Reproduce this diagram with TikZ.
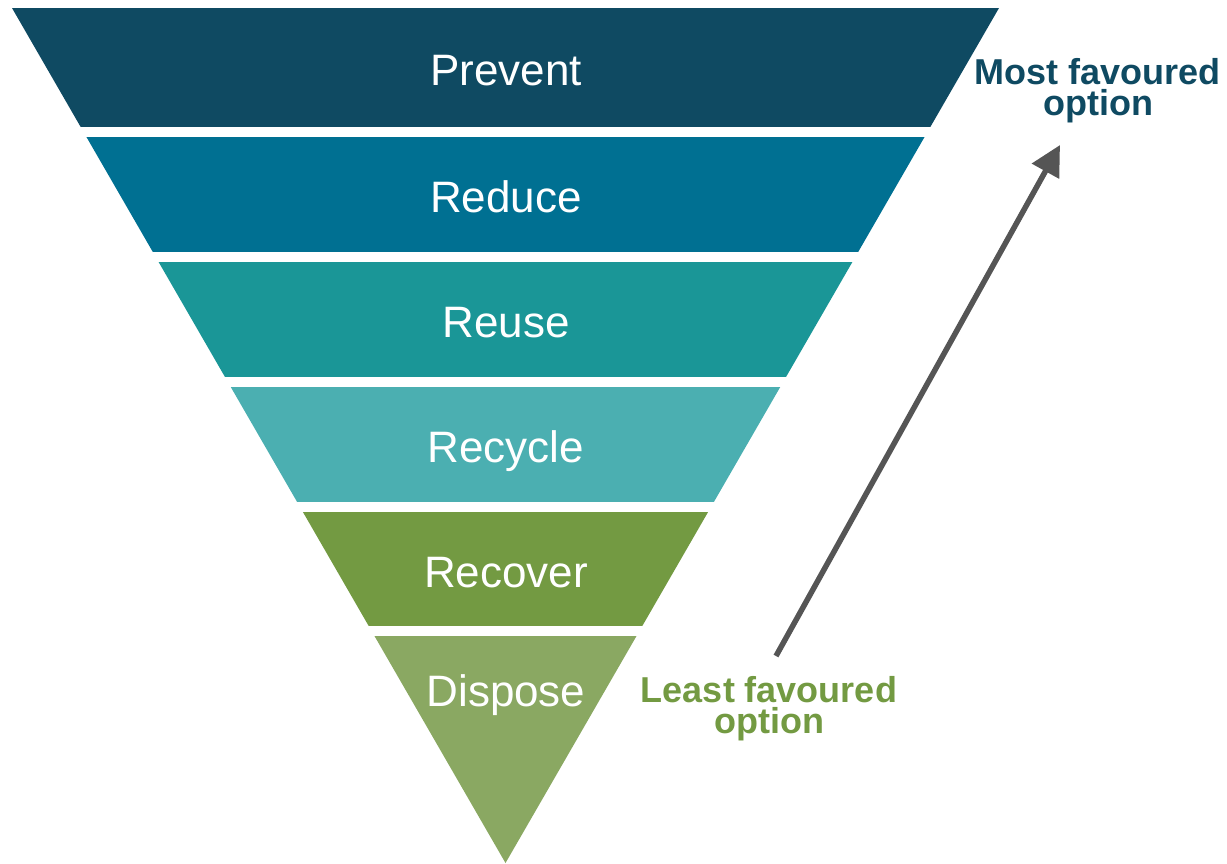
\documentclass[tikz,border=0pt]{standalone}
\usepackage{fontspec}
\setmainfont{Liberation Sans}
\usetikzlibrary{arrows.meta}
\definecolor{cPrevent}{HTML}{0F4A62}
\definecolor{cReduce}{HTML}{007092}
\definecolor{cReuse}{HTML}{1A9697}
\definecolor{cRecycle}{HTML}{4BAFB1}
\definecolor{cRecover}{HTML}{739A42}
\definecolor{cDispose}{HTML}{8AA862}
\definecolor{arrowgray}{HTML}{555555}
\tikzset{
  bandlabel/.style={text=white, anchor=base, inner sep=0pt, font=\fontsize{44}{50}\selectfont},
  sidelabel/.style={align=center, inner sep=0pt, font=\fontsize{36}{31}\selectfont\bfseries},
  rankarrow/.style={draw=arrowgray, line width=5.5pt, -{Triangle[length=30pt,width=30pt]}}
}
\begin{document}
\begin{tikzpicture}[x=1pt,y=-1pt]
\useasboundingbox (0,0) rectangle (1227,863);
\begin{scope}
  \clip (12,8) -- (999,8) -- (505.5,863) -- cycle;
  \fill[cPrevent] (0,8) rectangle (1227,127);
  \fill[cReduce]  (0,137) rectangle (1227,252);
  \fill[cReuse]   (0,262) rectangle (1227,377);
  \fill[cRecycle] (0,387) rectangle (1227,502);
  \fill[cRecover] (0,512) rectangle (1227,626);
  \fill[cDispose] (0,636) rectangle (1227,870);
\end{scope}
\node[bandlabel] (prevent) at (506,85) {Prevent};
\node[bandlabel] (reduce)  at (506,212) {Reduce};
\node[bandlabel] (reuse)   at (506,337) {Reuse};
\node[bandlabel] (recycle) at (506,462) {Recycle};
\node[bandlabel] (recover) at (506,587) {Recover};
\node[bandlabel] (dispose) at (506,706) {Dispose};
\node[sidelabel, text=cPrevent] (most) at (1098,91) {Most favoured\\option};
\node[sidelabel, text=cRecover] (least) at (769,709) {Least favoured\\option};
\coordinate (tail) at (776,656);
\coordinate (tip) at (1060,145);
\draw[rankarrow] (tail) -- (tip);
\end{tikzpicture}
\end{document}
